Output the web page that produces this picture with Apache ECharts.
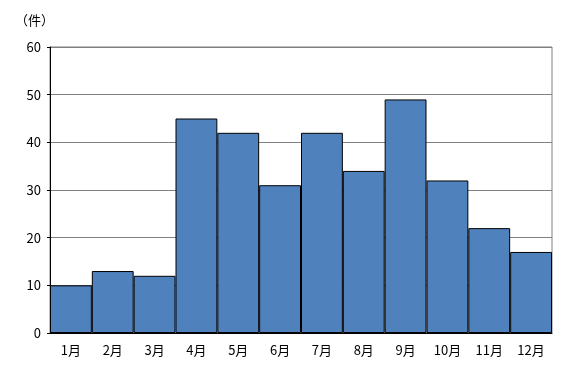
<!DOCTYPE html>
<html><head><meta charset="utf-8">
<script src="https://cdn.jsdelivr.net/npm/echarts@6/dist/echarts.min.js"></script>
<style>html,body{margin:0;padding:0;background:#fff}#c{width:571px;height:376px}</style>
</head><body><div id="c"></div>
<script>
const categories = ['1月','2月','3月','4月','5月','6月','7月','8月','9月','10月','11月','12月'];
const counts = [10, 13, 12, 45, 42, 31, 42, 34, 49, 32, 22, 17];
const yUnit = '（件）';
const font = '"Noto Sans CJK JP", sans-serif';
const chart = echarts.init(document.getElementById('c'));
chart.setOption({
  animation: false,
  grid: { left: 50, right: 19, top: 47, bottom: 43, show: true, borderColor: '#808080', borderWidth: 1 },
  graphic: [{ type: 'text', left: 15, top: 14, style: { text: yUnit, font: '13px ' + font, fill: '#000' } }],
  xAxis: {
    type: 'category', data: categories,
    axisLine: { lineStyle: { color: '#000', width: 1 } },
    axisTick: { show: false },
    axisLabel: { color: '#000', fontSize: 13, fontFamily: font, margin: 11, interval: 0 }
  },
  yAxis: {
    type: 'value', min: 0, max: 60, interval: 10,
    axisLine: { show: true, lineStyle: { color: '#000', width: 1 } },
    axisTick: { show: true, length: 3, lineStyle: { color: '#000' } },
    splitLine: { lineStyle: { color: '#808080', width: 1 } },
    axisLabel: { color: '#000', fontSize: 13, fontFamily: font, margin: 9 }
  },
  series: [{
    type: 'bar', data: counts, barCategoryGap: 0,
    itemStyle: { color: '#4F81BD', borderColor: '#000', borderWidth: 1 }
  }]
});
</script></body></html>
